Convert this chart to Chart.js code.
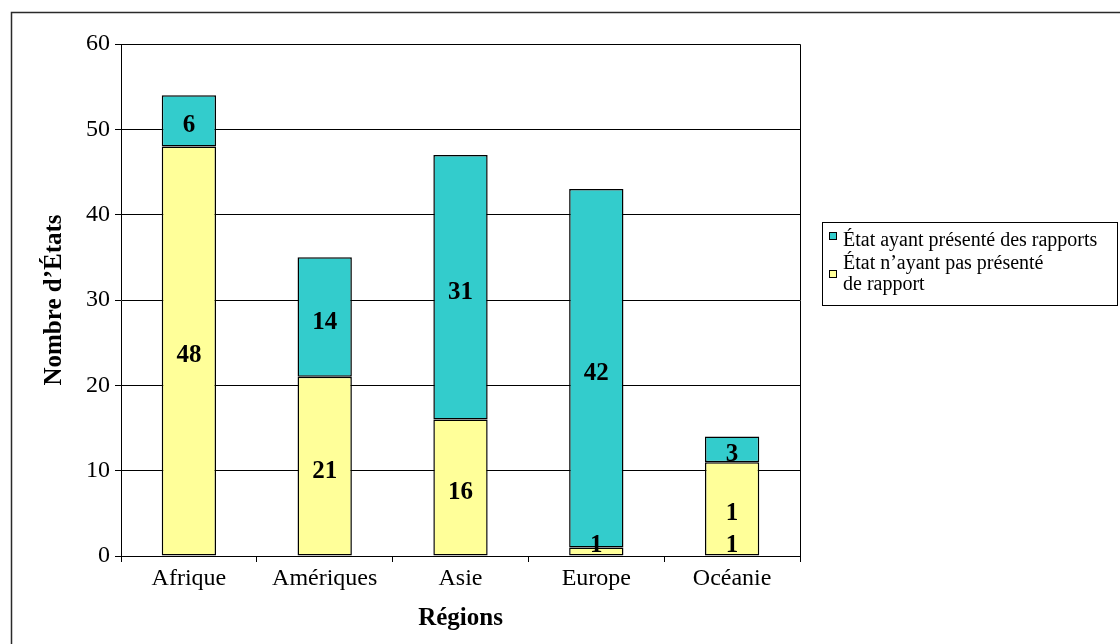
<!DOCTYPE html>
<html lang="fr">
<head>
<meta charset="utf-8">
<title>Rapports par région</title>
<script src="https://cdn.jsdelivr.net/npm/chart.js@4/dist/chart.umd.min.js"></script>
<style>
  html, body { margin: 0; padding: 0; background: #ffffff; }
  #wrap { width: 1120px; height: 644px; position: relative; }
</style>
</head>
<body>
<div id="wrap"><canvas id="c" width="1120" height="644"></canvas></div>
<script>
// Regions and the number of States in each, split by reporting status
const regions = ['Afrique', 'Amériques', 'Asie', 'Europe', 'Océanie'];
const reported = [6, 14, 31, 42, 3];
const notReported = [48, 21, 16, 1, 11];
// Value labels that are broken onto one line per digit
const notReportedWrapped = [false, false, false, false, true];
const reportedWrapped = [false, false, false, false, false];
const yTicks = [0, 10, 20, 30, 40, 50, 60];

const reportedName = 'État ayant présenté des rapports';
const notReportedName = ['État n’ayant pas présenté', 'de rapport'];
const yTitle = 'Nombre d’États';
const xTitle = 'Régions';

const TEAL = '#33CCCC';
const YELLOW = '#FFFF99';
const SERIF = "'Liberation Serif', 'Times New Roman', serif";

// White page with the outer frame
const framePlugin = {
  id: 'frame',
  beforeDraw(chart) {
    const ctx = chart.ctx;
    ctx.save();
    ctx.fillStyle = '#ffffff';
    ctx.fillRect(0, 0, chart.width, chart.height);
    ctx.strokeStyle = '#2a2a2a';
    ctx.lineWidth = 1.5;
    ctx.beginPath();
    ctx.moveTo(11.5, chart.height + 2);
    ctx.lineTo(11.5, 12.5);
    ctx.lineTo(chart.width + 2, 12.5);
    ctx.stroke();
    ctx.restore();
  }
};

// Box around the plot area
const plotBoxPlugin = {
  id: 'plotBox',
  afterDatasetsDraw(chart) {
    const { ctx, chartArea: a } = chart;
    ctx.save();
    ctx.strokeStyle = '#000000';
    ctx.lineWidth = 1;
    ctx.beginPath();
    ctx.moveTo(Math.round(a.left) + 0.5, Math.round(a.top) + 0.5);
    ctx.lineTo(Math.round(a.right) + 0.5, Math.round(a.top) + 0.5);
    ctx.lineTo(Math.round(a.right) + 0.5, Math.round(a.bottom) + 0.5);
    ctx.stroke();
    ctx.restore();
  }
};

// Value labels centred in each bar segment; wrapped labels sit on the axis
const valueLabelPlugin = {
  id: 'valueLabels',
  afterDatasetsDraw(chart) {
    const ctx = chart.ctx;
    const base = chart.scales.y.getPixelForValue(0);
    ctx.save();
    ctx.font = 'bold 25px ' + SERIF;
    ctx.fillStyle = '#000000';
    ctx.textAlign = 'center';
    ctx.textBaseline = 'middle';
    const lh = 32;
    const maxLast = base - 10;
    chart.data.datasets.forEach((ds, di) => {
      const meta = chart.getDatasetMeta(di);
      meta.data.forEach((bar, i) => {
        const text = String(ds.data[i]);
        const lines = ds.wrapped[i] ? text.split('') : [text];
        let last;
        if (lines.length > 1) {
          last = maxLast;
        } else {
          last = Math.min((bar.y + bar.base) / 2 + 5, maxLast);
        }
        const first = last - (lines.length - 1) * lh;
        lines.forEach((ln, k) => ctx.fillText(ln, bar.x, first + k * lh));
      });
    });
    ctx.restore();
  }
};

// Legend box on the right
const legendPlugin = {
  id: 'sideLegend',
  afterDraw(chart) {
    const ctx = chart.ctx;
    ctx.save();
    ctx.strokeStyle = '#000000';
    ctx.lineWidth = 1;
    ctx.strokeRect(822.5, 222.5, 295, 83);
    const entries = [
      { color: TEAL, lines: [reportedName], sq: 232, base: 246 },
      { color: YELLOW, lines: notReportedName, sq: 270, base: 269 }
    ];
    ctx.font = '20px ' + SERIF;
    ctx.textAlign = 'left';
    ctx.textBaseline = 'alphabetic';
    entries.forEach(e => {
      ctx.fillStyle = e.color;
      ctx.fillRect(829, e.sq, 8, 8);
      ctx.strokeStyle = '#000000';
      ctx.strokeRect(829.5, e.sq + 0.5, 7, 7);
      ctx.fillStyle = '#000000';
      e.lines.forEach((ln, k) => ctx.fillText(ln, 843, e.base + k * 21));
    });
    ctx.restore();
  }
};

new Chart(document.getElementById('c'), {
  type: 'bar',
  data: {
    labels: regions,
    datasets: [
      {
        label: notReportedName.join(' '),
        data: notReported,
        wrapped: notReportedWrapped,
        backgroundColor: YELLOW,
        borderColor: '#000000',
        borderWidth: 1.5,
        borderSkipped: false
      },
      {
        label: reportedName,
        data: reported,
        wrapped: reportedWrapped,
        backgroundColor: TEAL,
        borderColor: '#000000',
        borderWidth: 1.5,
        borderSkipped: false
      }
    ]
  },
  options: {
    responsive: false,
    animation: false,
    devicePixelRatio: 1,
    layout: { padding: { left: 0, top: 44, right: 320, bottom: 0 } },
    datasets: { bar: { categoryPercentage: 1, barPercentage: 0.4 } },
    plugins: { legend: { display: false }, tooltip: { enabled: false } },
    scales: {
      x: {
        stacked: true,
        offset: true,
        grid: { display: true, drawOnChartArea: false, drawTicks: true, tickLength: 6, color: '#000000', offset: true },
        border: { display: true, color: '#000000', width: 1 },
        ticks: { color: '#000000', font: { family: SERIF, size: 24 }, padding: 2, maxRotation: 0 },
        title: { display: true, text: xTitle, color: '#000000', font: { family: SERIF, size: 25, weight: 'bold' }, padding: { top: 0, bottom: 10 } },
        afterFit(scale) { scale.height = 88; }
      },
      y: {
        stacked: true,
        min: 0,
        max: 60,
        afterBuildTicks(scale) { scale.ticks = yTicks.map(v => ({ value: v })); },
        grid: { display: true, drawTicks: true, tickLength: 6, color: '#000000', lineWidth: 1 },
        border: { display: true, color: '#000000', width: 1 },
        ticks: { color: '#000000', font: { family: SERIF, size: 24 }, padding: 5 },
        title: { display: true, text: yTitle, color: '#000000', font: { family: SERIF, size: 25, weight: 'bold' }, padding: { top: 40, bottom: 0 } },
        afterFit(scale) { scale.width = 121; }
      }
    }
  },
  plugins: [framePlugin, plotBoxPlugin, valueLabelPlugin, legendPlugin]
});
</script>
</body>
</html>
